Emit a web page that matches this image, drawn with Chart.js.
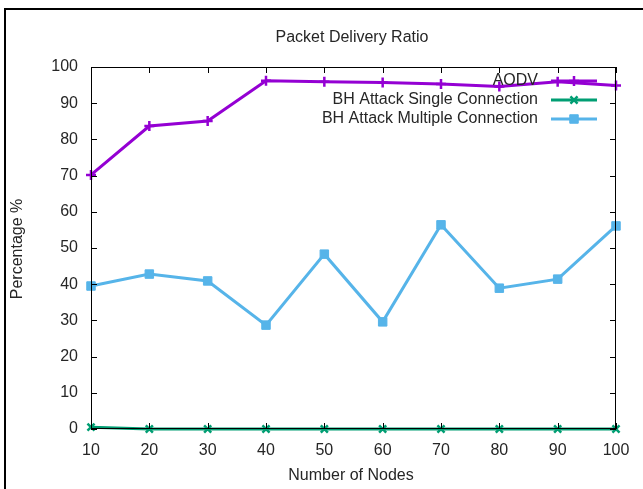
<!DOCTYPE html>
<html>
<head>
<meta charset="utf-8">
<script src="https://cdn.jsdelivr.net/npm/chart.js@4.4.1/dist/chart.umd.min.js"></script>
<style>
  html, body { margin: 0; padding: 0; background: #fff; }
  #wrap { width: 643px; height: 489px; }
</style>
</head>
<body>
<div id="wrap"><canvas id="c" width="643" height="489"></canvas></div>
<script>
// Number of nodes in the simulation
const nodes = [10, 20, 30, 40, 50, 60, 70, 80, 90, 100];
// Packet delivery ratio (%) per scenario
const aodv = [70.2, 83.7, 85.1, 96.2, 95.9, 95.7, 95.3, 94.6, 95.9, 94.9];
const bhSingle = [0.5, 0, 0, 0, 0, 0, 0, 0, 0, 0];
const bhMultiple = [39.5, 42.8, 40.9, 28.7, 48.3, 29.6, 56.4, 38.9, 41.4, 56.1];
// Axis ticks
const xTicks = [10, 20, 30, 40, 50, 60, 70, 80, 90, 100];
const yTicks = [0, 10, 20, 30, 40, 50, 60, 70, 80, 90, 100];

const FONT = '"Liberation Sans", Arial, sans-serif';
const TEXT = '#262626';

const toPoints = vals => nodes.map((n, i) => ({ x: n, y: vals[i] }));

// Frame, titles, inward tick marks and the right-aligned key
const decor = {
  id: 'decor',
  beforeDraw(chart) {
    const ctx = chart.ctx;
    ctx.save();
    ctx.fillStyle = '#fff';
    ctx.fillRect(0, 0, chart.width, chart.height);
    ctx.strokeStyle = '#000';
    ctx.lineWidth = 2;
    ctx.beginPath();
    ctx.moveTo(5, chart.height);
    ctx.lineTo(5, 9);
    ctx.lineTo(chart.width, 9);
    ctx.stroke();
    ctx.restore();
  },
  afterDraw(chart) {
    const ctx = chart.ctx;
    const a = chart.chartArea;
    const xs = chart.scales.x, ys = chart.scales.y;
    ctx.save();
    // plot box
    ctx.strokeStyle = '#000';
    ctx.lineWidth = 1;
    ctx.strokeRect(a.left + 0.5, a.top + 0.5, a.right - a.left - 1, a.bottom - a.top - 1);
    // inward ticks on all four sides
    const tl = 6;
    ctx.beginPath();
    yTicks.forEach(v => {
      const y = Math.round(ys.getPixelForValue(v)) + 0.5;
      ctx.moveTo(a.left, y); ctx.lineTo(a.left + tl, y);
      ctx.moveTo(a.right, y); ctx.lineTo(a.right - tl, y);
    });
    xTicks.forEach(v => {
      const x = Math.round(xs.getPixelForValue(v)) + 0.5;
      ctx.moveTo(x, a.top); ctx.lineTo(x, a.top + tl);
      ctx.moveTo(x, a.bottom); ctx.lineTo(x, a.bottom - tl);
    });
    ctx.stroke();

    // titles
    ctx.fillStyle = TEXT;
    ctx.font = '16px ' + FONT;
    ctx.textAlign = 'center';
    ctx.textBaseline = 'middle';
    ctx.fillText('Packet Delivery Ratio', 352, 38);
    ctx.fillText('Number of Nodes', 351, 476);
    ctx.save();
    ctx.translate(18, 249);
    ctx.rotate(-Math.PI / 2);
    ctx.fillText('Percentage %', 0, 0);
    ctx.restore();

    // key
    const textRight = 538, lineL = 551, lineR = 597, top = 81, step = 19;
    chart.data.datasets.forEach((ds, i) => {
      const y = top + i * step;
      ctx.fillStyle = TEXT;
      ctx.textAlign = 'right';
      ctx.fillText(ds.label, textRight, y);
      ctx.strokeStyle = ds.borderColor;
      ctx.lineWidth = ds.borderWidth;
      ctx.beginPath();
      ctx.moveTo(lineL, y); ctx.lineTo(lineR, y);
      ctx.stroke();
      ctx.fillStyle = ds.backgroundColor;
      ctx.strokeStyle = ds.borderColor;
      ctx.lineWidth = ds.pointBorderWidth;
      Chart.helpers.drawPoint(ctx, {
        pointStyle: ds.pointStyle,
        radius: ds.pointRadius,
        borderWidth: ds.pointBorderWidth,
        rotation: 0
      }, (lineL + lineR) / 2, y);
    });
    ctx.restore();
  }
};

new Chart(document.getElementById('c'), {
  type: 'line',
  data: {
    datasets: [
      {
        label: 'AODV',
        data: toPoints(aodv),
        borderColor: '#9400d3',
        backgroundColor: '#9400d3',
        borderWidth: 3,
        pointStyle: 'cross',
        pointRadius: 5,
        pointBorderWidth: 2.5,
        clip: false
      },
      {
        label: 'BH Attack Single Connection',
        data: toPoints(bhSingle),
        borderColor: '#009e73',
        backgroundColor: '#009e73',
        borderWidth: 3,
        pointStyle: 'crossRot',
        pointRadius: 5,
        pointBorderWidth: 2.5,
        clip: false
      },
      {
        label: 'BH Attack Multiple Connection',
        data: toPoints(bhMultiple),
        borderColor: '#56b4e9',
        backgroundColor: '#56b4e9',
        borderWidth: 3,
        pointStyle: 'rect',
        pointRadius: 6,
        pointBorderWidth: 1,
        clip: false
      }
    ]
  },
  options: {
    responsive: false,
    animation: false,
    devicePixelRatio: 1,
    layout: { padding: { left: 0, top: 67, right: 27, bottom: 0 } },
    plugins: {
      legend: { display: false },
      title: { display: false },
      tooltip: { enabled: false }
    },
    elements: { line: { tension: 0 } },
    scales: {
      x: {
        type: 'linear',
        min: 10,
        max: 100,
        afterBuildTicks: s => { s.ticks = xTicks.map(v => ({ value: v })); },
        afterFit: s => { s.height = 60; },
        grid: { display: false, drawTicks: false },
        border: { display: false },
        ticks: { color: TEXT, font: { family: FONT, size: 16 }, padding: 12, maxRotation: 0 }
      },
      y: {
        min: 0,
        max: 100,
        afterBuildTicks: s => { s.ticks = yTicks.map(v => ({ value: v })); },
        afterFit: s => { s.width = 91; },
        grid: { display: false, drawTicks: false },
        border: { display: false },
        ticks: { color: TEXT, font: { family: FONT, size: 16 }, padding: 13 }
      }
    }
  },
  plugins: [decor]
});
</script>
</body>
</html>
